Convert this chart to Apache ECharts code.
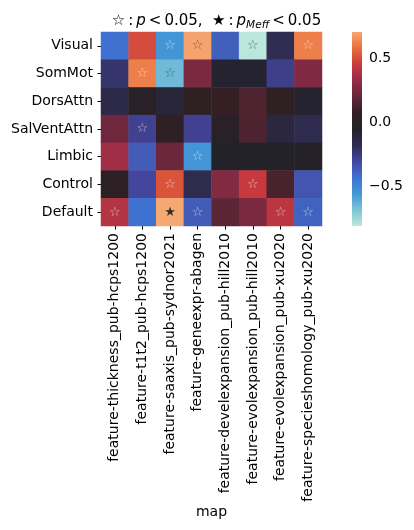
<!DOCTYPE html>
<html>
<head>
<meta charset="utf-8">
<script src="https://cdn.jsdelivr.net/npm/echarts@6/dist/echarts.min.js"></script>
<style>
  html, body { margin: 0; padding: 0; background: #fff; }
  #chart { width: 414px; height: 530px; }
</style>
</head>
<body>
<div id="chart"></div>
<script>
var networks = ['Visual', 'SomMot', 'DorsAttn', 'SalVentAttn', 'Limbic', 'Control', 'Default'];
var maps = [
  'feature-thickness_pub-hcps1200',
  'feature-t1t2_pub-hcps1200',
  'feature-saaxis_pub-sydnor2021',
  'feature-geneexpr-abagen',
  'feature-develexpansion_pub-hill2010',
  'feature-evolexpansion_pub-hill2010',
  'feature-evolexpansion_pub-xu2020',
  'feature-specieshomology_pub-xu2020'
];
// one row per network, one value per map
var rowVisual      = [-0.43,  0.50, -0.55,  0.70, -0.38, -0.81, -0.18,  0.62];
var rowSomMot      = [-0.22,  0.62, -0.66,  0.26, -0.07, -0.07, -0.27,  0.27];
var rowDorsAttn    = [-0.15,  0.00, -0.10,  0.05,  0.08,  0.15,  0.05, -0.07];
var rowSalVentAttn = [ 0.23, -0.28,  0.04, -0.28,  0.00,  0.14, -0.12, -0.17];
var rowLimbic      = [ 0.35, -0.37,  0.22, -0.55, -0.05, -0.05, -0.05, -0.04];
var rowControl     = [ 0.03, -0.30,  0.52, -0.17,  0.28,  0.45,  0.13, -0.35];
var rowDefault     = [ 0.40, -0.43,  0.71, -0.37,  0.18,  0.26,  0.42, -0.39];
var values = [rowVisual, rowSomMot, rowDorsAttn, rowSalVentAttn, rowLimbic, rowControl, rowDefault];
// 0 = nothing, 1 = p < 0.05 (hollow star), 2 = p_Meff < 0.05 (filled star)
var stars = [
  [0, 0, 1, 1, 0, 1, 0, 1],
  [0, 1, 1, 0, 0, 0, 0, 0],
  [0, 0, 0, 0, 0, 0, 0, 0],
  [0, 1, 0, 0, 0, 0, 0, 0],
  [0, 0, 0, 1, 0, 0, 0, 0],
  [0, 0, 1, 0, 0, 1, 0, 0],
  [1, 0, 2, 1, 0, 0, 1, 1]
];
var cbTicks = [-0.5, 0, 0.5];
var VMIN = -0.815, VMAX = 0.71;

// icefire-like ramp, evenly spaced from VMIN to VMAX
var ramp = ['#bde7db', '#7cc4d6', '#4398d6', '#3f72d1', '#4447a0', '#302c52', '#232229',
            '#321f23', '#64263a', '#962c48', '#c93a3e', '#ea6e3b', '#f5a872'];

function hexRgb(h) {
  return [parseInt(h.substr(1, 2), 16), parseInt(h.substr(3, 2), 16), parseInt(h.substr(5, 2), 16)];
}
function colorAt(v) {
  var t = (v - VMIN) / (VMAX - VMIN) * (ramp.length - 1);
  t = Math.max(0, Math.min(ramp.length - 1, t));
  var i = Math.min(Math.floor(t), ramp.length - 2), f = t - i;
  var a = hexRgb(ramp[i]), b = hexRgb(ramp[i + 1]);
  return [0, 1, 2].map(function (k) { return a[k] + (b[k] - a[k]) * f; });
}
function luminance(rgb) {
  var c = rgb.map(function (x) {
    x = x / 255;
    return x <= 0.03928 ? x / 12.92 : Math.pow((x + 0.055) / 1.055, 2.4);
  });
  return 0.2126 * c[0] + 0.7152 * c[1] + 0.0722 * c[2];
}

var cells = [];
values.forEach(function (row, r) {
  row.forEach(function (v, c) {
    var s = stars[r][c];
    var dark = luminance(colorAt(v)) > 0.408;
    cells.push({
      value: [c, r, v],
      label: {
        show: s > 0,
        formatter: s === 2 ? '★' : '☆',
        color: dark ? (s === 2 ? 'rgba(30,30,30,0.9)' : 'rgba(40,40,40,0.6)') : 'rgba(255,255,255,0.6)'
      }
    });
  });
});

var font = 'DejaVu Sans';
var th = '\u2009'; // thin space, like mathtext spacing
var myChart = echarts.init(document.getElementById('chart'));
myChart.setOption({
  backgroundColor: '#fff',
  animation: false,
  title: {
    text: '{s|☆' + th + ':' + th + '}{i|p}{s|' + th + '<' + th + '0.05,  ★' + th + ':' + th + '}{i|p}{sub|Meff}{s|' + th + '<' + th + '0.05}',
    left: 211.5,
    top: 6,
    textAlign: 'center',
    textStyle: {
      fontWeight: 'normal',
      rich: {
        s: { fontFamily: font, fontSize: 15, fontWeight: 'normal', color: '#000', lineHeight: 20 },
        i: { fontFamily: font, fontSize: 15, fontWeight: 'normal', fontStyle: 'italic', color: '#000', lineHeight: 20 },
        sub: { fontFamily: font, fontSize: 10.5, fontWeight: 'normal', fontStyle: 'italic', color: '#000', lineHeight: 20, verticalAlign: 'bottom', padding: [6, 0, 0, 0] }
      }
    }
  },
  grid: [
    { left: 101, top: 32, width: 221, height: 194 },
    { left: 352, top: 32, width: 10, height: 194 }
  ],
  xAxis: [
    {
      gridIndex: 0, type: 'category', data: maps,
      axisLine: { show: false },
      axisTick: { show: true, length: 3.5, alignWithLabel: true, lineStyle: { color: '#000' } },
      axisLabel: { rotate: 90, margin: 7, fontFamily: font, fontSize: 14, color: '#000', interval: 0 },
      name: 'map', nameLocation: 'middle', nameGap: 279,
      nameTextStyle: { fontFamily: font, fontSize: 14, color: '#000' },
      splitLine: { show: false }
    },
    { gridIndex: 1, type: 'value', min: 0, max: 1, show: false }
  ],
  yAxis: [
    {
      gridIndex: 0, type: 'category', data: networks, inverse: true,
      axisLine: { show: false },
      axisTick: { show: true, length: 3.5, alignWithLabel: true, lineStyle: { color: '#000' } },
      axisLabel: { margin: 8, fontFamily: font, fontSize: 14, color: '#000', interval: 0 },
      splitLine: { show: false }
    },
    {
      gridIndex: 1, type: 'value', min: VMIN, max: VMAX, position: 'right',
      axisLine: { show: false },
      splitLine: { show: false },
      axisTick: { show: true, length: 3.5, customValues: cbTicks, lineStyle: { color: '#000' } },
      axisLabel: {
        customValues: cbTicks, margin: 7, fontFamily: font, fontSize: 14, color: '#000',
        formatter: function (v) { return (v < 0 ? '\u2212' : '') + Math.abs(v).toFixed(1); }
      }
    }
  ],
  visualMap: {
    show: false, type: 'continuous', min: VMIN, max: VMAX, dimension: 2, seriesIndex: 0,
    inRange: { color: ramp }
  },
  series: [
    {
      type: 'heatmap', xAxisIndex: 0, yAxisIndex: 0, data: cells,
      label: { fontFamily: font, fontSize: 13 },
      emphasis: { disabled: true }
    },
    {
      type: 'custom', xAxisIndex: 1, yAxisIndex: 1, data: [[0, 0]], silent: true,
      renderItem: function (params, api) {
        var p0 = api.coord([0, VMAX]), p1 = api.coord([1, VMIN]);
        var stops = ramp.map(function (c, i) {
          return { offset: 1 - i / (ramp.length - 1), color: c };
        }).reverse();
        return {
          type: 'rect',
          shape: { x: p0[0], y: p0[1], width: p1[0] - p0[0], height: p1[1] - p0[1] },
          style: { fill: new echarts.graphic.LinearGradient(0, 0, 0, 1, stops) }
        };
      }
    }
  ]
});
window.addEventListener('resize', function () {
  myChart.resize();
});
</script>
</body>
</html>
